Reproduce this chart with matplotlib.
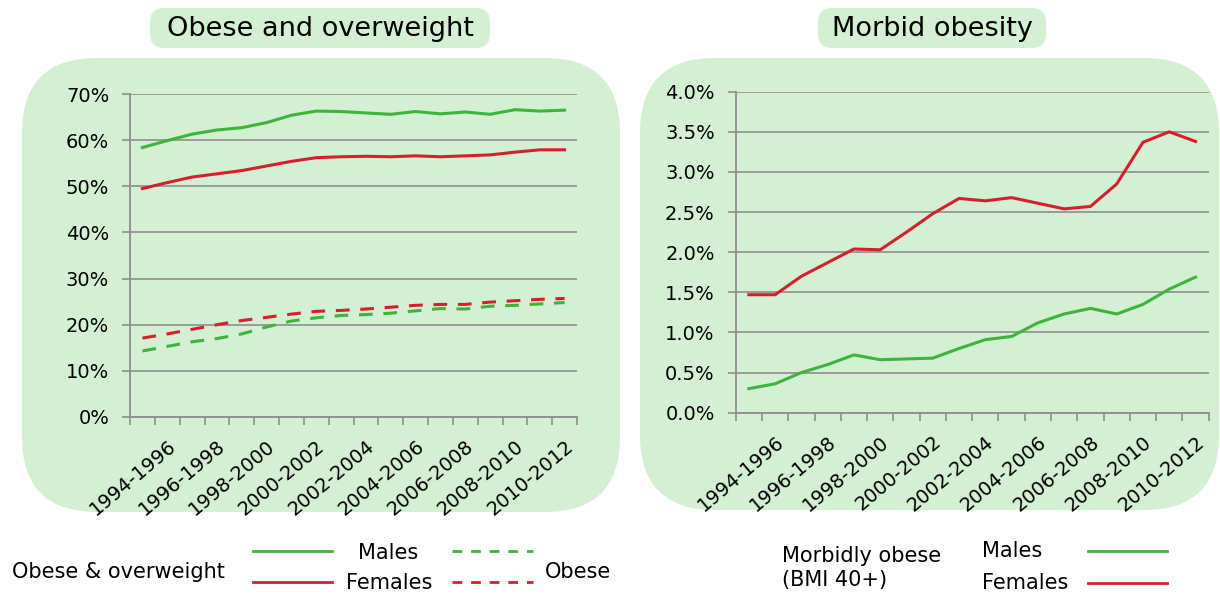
import matplotlib
matplotlib.use("Agg")
import matplotlib.pyplot as plt
from matplotlib.patches import FancyBboxPatch
from matplotlib.lines import Line2D
from matplotlib.ticker import FuncFormatter, FixedLocator

plt.rcParams['font.family'] = ['DejaVu Sans']

# three-year periods, 1993-1995 .. 2010-2012 (every other one labelled)
periods = [f"{y}-{y + 2}" for y in range(1993, 2011)]

# obese and overweight (share of adults, %)
males_ow = [58.4, 59.9, 61.3, 62.2, 62.7, 63.8, 65.4, 66.3, 66.2, 65.9,
            65.6, 66.2, 65.7, 66.1, 65.6, 66.6, 66.3, 66.5]
females_ow = [49.5, 50.8, 52.0, 52.7, 53.4, 54.4, 55.4, 56.2, 56.4, 56.5,
              56.4, 56.6, 56.4, 56.6, 56.8, 57.4, 57.9, 57.9]
males_ob = [14.3, 15.3, 16.3, 17.0, 18.0, 19.5, 20.8, 21.5, 22.0, 22.2,
            22.5, 23.0, 23.5, 23.4, 24.0, 24.2, 24.5, 24.8]
females_ob = [17.1, 18.0, 19.0, 20.0, 20.9, 21.6, 22.3, 22.9, 23.1, 23.4,
              23.8, 24.2, 24.4, 24.4, 24.9, 25.2, 25.5, 25.7]

# morbid obesity, BMI 40+ (%)
males_mo = [0.30, 0.36, 0.50, 0.60, 0.72, 0.66, 0.67, 0.68, 0.80, 0.91,
            0.95, 1.12, 1.23, 1.30, 1.23, 1.35, 1.54, 1.69]
females_mo = [1.47, 1.47, 1.70, 1.87, 2.04, 2.03, 2.25, 2.48, 2.67, 2.64,
              2.68, 2.61, 2.54, 2.57, 2.85, 3.37, 3.50, 3.38]

GREEN = '#3DB53A'
RED = '#D61F2C'
BG = '#D4F0D3'
GRID = '#8E8E8E'

W, H = 1220, 595
fig = plt.figure(figsize=(W / 100, H / 100), dpi=100)
fig.patch.set_facecolor('white')


def px_box(x0, y0, x1, y1, r):
    # box in pixels from the top-left corner, drawn in inches so corners stay round
    p = FancyBboxPatch((x0 / 100, (H - y1) / 100), (x1 - x0) / 100, (y1 - y0) / 100,
                       boxstyle=f"round,pad=0,rounding_size={r / 100}",
                       transform=fig.dpi_scale_trans, facecolor=BG,
                       edgecolor='none', zorder=0)
    fig.add_artist(p)


def fx(x):
    return x / W


def fy(y):
    return 1 - y / H


# panels and title boxes
px_box(22, 58, 620, 512, 75)
px_box(640, 58, 1219, 510, 75)
px_box(150, 8, 490, 48, 14)
px_box(818, 8, 1046, 48, 14)
fig.text(fx(320), fy(29), "Obese and overweight", ha='center', va='center', fontsize=19.5)
fig.text(fx(932), fy(29), "Morbid obesity", ha='center', va='center', fontsize=19.5)


def style_axis(ax):
    ax.set_facecolor('none')
    ax.set_xlim(-0.5, len(periods) - 0.5)
    for s in ['top', 'right']:
        ax.spines[s].set_visible(False)
    for s in ['left', 'bottom']:
        ax.spines[s].set_color(GRID)
        ax.spines[s].set_linewidth(1.3)
    ax.grid(axis='y', color=GRID, linewidth=1.2)
    ax.set_axisbelow(True)
    ax.set_xticks(range(1, len(periods), 2))
    ax.set_xticklabels(periods[1::2], rotation=40, ha='right', va='top',
                       rotation_mode='anchor', fontsize=14)
    ax.tick_params(axis='x', length=0, pad=14)
    ax.xaxis.set_minor_locator(FixedLocator([i - 0.5 for i in range(len(periods) + 1)]))
    ax.tick_params(axis='x', which='minor', length=6, color=GRID, width=1.2)
    ax.tick_params(axis='y', length=6, color=GRID, width=1.2, labelsize=14, pad=9)


x = list(range(len(periods)))

ax1 = fig.add_axes([fx(130), fy(417), fx(577) - fx(130), fy(94) - fy(417)])
style_axis(ax1)
ax1.plot(x, males_ow, color=GREEN, lw=2.2)
ax1.plot(x, females_ow, color=RED, lw=2.2)
ax1.plot(x, males_ob, color=GREEN, lw=2.2, dashes=(4.5, 3.5))
ax1.plot(x, females_ob, color=RED, lw=2.2, dashes=(4.5, 3.5))
ax1.set_ylim(0, 70)
ax1.set_yticks(range(0, 71, 10))
ax1.yaxis.set_major_formatter(FuncFormatter(lambda v, p: f"{v:.0f}%"))

ax2 = fig.add_axes([fx(735.7), fy(412.7), fx(1208.7) - fx(735.7), fy(91.7) - fy(412.7)])
style_axis(ax2)
ax2.plot(x, males_mo, color=GREEN, lw=2.2)
ax2.plot(x, females_mo, color=RED, lw=2.2)
ax2.set_ylim(0, 4.0)
ax2.set_yticks([i * 0.5 for i in range(9)])
ax2.yaxis.set_major_formatter(FuncFormatter(lambda v, p: f"{v:.1f}%"))


def legend_line(x0, x1, y, color, dashed=False):
    ln = Line2D([fx(x0), fx(x1)], [fy(y), fy(y)], transform=fig.transFigure,
                color=color, lw=2.0)
    if dashed:
        ln.set_dashes((3.5, 3.2))
    fig.add_artist(ln)


# left legend
fig.text(fx(12), fy(572), "Obese & overweight", ha='left', va='center', fontsize=15)
legend_line(253, 332, 551, GREEN)
legend_line(253, 332, 582, RED)
fig.text(fx(388), fy(553), "Males", ha='center', va='center', fontsize=15)
fig.text(fx(389), fy(583), "Females", ha='center', va='center', fontsize=15)
legend_line(452, 533, 551, GREEN, dashed=True)
legend_line(452, 533, 582, RED, dashed=True)
fig.text(fx(545), fy(572), "Obese", ha='left', va='center', fontsize=15)

# right legend
fig.text(fx(782), fy(556), "Morbidly obese", ha='left', va='center', fontsize=15)
fig.text(fx(782), fy(580), "(BMI 40+)", ha='left', va='center', fontsize=15)
fig.text(fx(982), fy(551), "Males", ha='left', va='center', fontsize=15)
fig.text(fx(982), fy(583), "Females", ha='left', va='center', fontsize=15)
legend_line(1088, 1167, 551, GREEN)
legend_line(1088, 1167, 583, RED)

fig.savefig("out.png", dpi=100)
